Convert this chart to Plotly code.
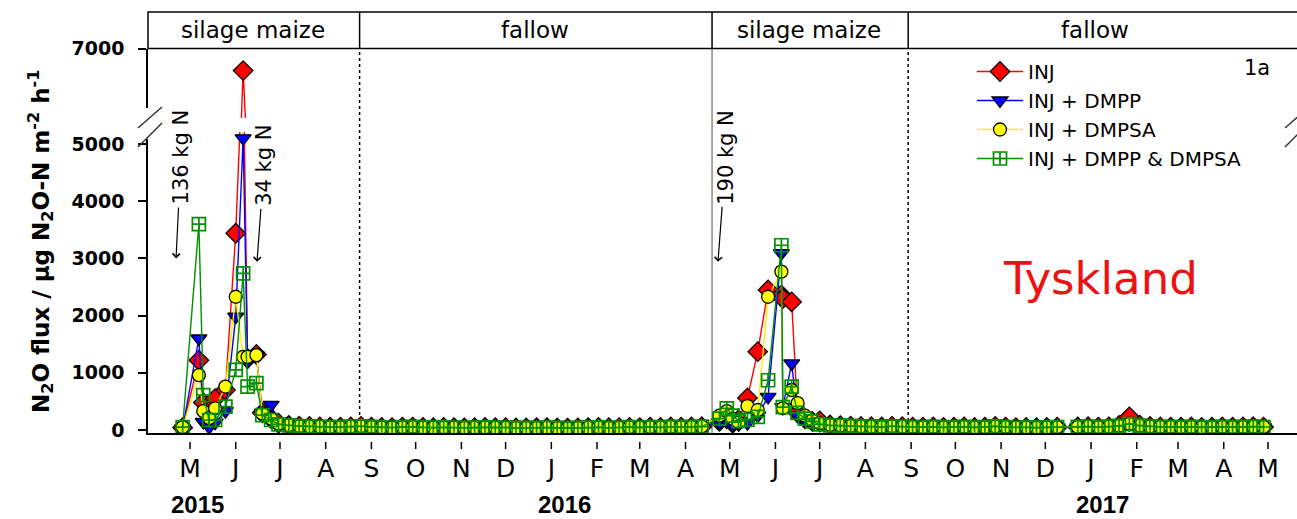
import pandas as pd
import plotly.graph_objects as go

# ---------------- sampling dates ----------------
dates_maize_2015 = ["2015-05-10", "2015-05-21", "2015-05-24", "2015-05-28", "2015-06-01",
                    "2015-06-08", "2015-06-15", "2015-06-20", "2015-06-23", "2015-06-29",
                    "2015-07-03", "2015-07-09", "2015-07-14"]
dates_fallow_2015 = ["2015-07-21", "2015-07-28", "2015-08-04", "2015-08-11", "2015-08-18",
                     "2015-08-25", "2015-09-01", "2015-09-08", "2015-09-15", "2015-09-22",
                     "2015-09-29", "2015-10-06", "2015-10-13", "2015-10-20", "2015-10-27",
                     "2015-11-03", "2015-11-10", "2015-11-17", "2015-11-24", "2015-12-01",
                     "2015-12-08", "2015-12-15", "2015-12-22", "2015-12-29", "2016-01-05",
                     "2016-01-12", "2016-01-19", "2016-01-26", "2016-02-02", "2016-02-09",
                     "2016-02-16", "2016-02-23", "2016-03-01", "2016-03-08", "2016-03-15",
                     "2016-03-22", "2016-03-29", "2016-04-05", "2016-04-12", "2016-04-19",
                     "2016-04-26"]
dates_maize_2016 = ["2016-05-08", "2016-05-13", "2016-05-17", "2016-05-21", "2016-05-27",
                    "2016-06-03", "2016-06-10", "2016-06-19", "2016-06-20", "2016-06-26",
                    "2016-06-30", "2016-07-05", "2016-07-10", "2016-07-15", "2016-07-22"]
dates_fallow_2016 = ["2016-07-29", "2016-08-05", "2016-08-12", "2016-08-19", "2016-08-26",
                     "2016-09-02", "2016-09-09", "2016-09-16", "2016-09-23", "2016-09-30",
                     "2016-10-07", "2016-10-14", "2016-10-21", "2016-10-28", "2016-11-04",
                     "2016-11-11", "2016-11-18", "2016-11-25", "2016-12-02", "2016-12-09",
                     "2016-12-16", "2016-12-23", "2017-01-06", "2017-01-13", "2017-01-20",
                     "2017-01-27", "2017-02-03", "2017-02-10", "2017-02-17", "2017-02-24",
                     "2017-03-03", "2017-03-10", "2017-03-17", "2017-03-24", "2017-03-31",
                     "2017-04-07", "2017-04-14", "2017-04-21", "2017-04-28", "2017-05-05",
                     "2017-05-12"]

# ---------------- N2O fluxes (ug N2O-N m-2 h-1) ----------------
inj_maize_2015 = [40, 1220, 480, 330, 550, 700, 3440, 6650, 1250, 1320, 300, 200, 120]
dmpp_maize_2015 = [30, 1600, 140, 50, 130, 330, 1980, 5100, 1200, 1300, 300, 440, 150]
dmpsa_maize_2015 = [50, 960, 330, 210, 380, 760, 2330, 1280, 1280, 1310, 290, 200, 110]
both_maize_2015 = [50, 3600, 610, 175, 175, 410, 1050, 2740, 760, 820, 260, 175, 100]

inj_fallow_2015 = [80, 68, 62, 55, 50, 48, 56, 64, 50, 45, 42, 48, 52, 44, 40, 46, 42, 38, 41, 44, 39,
                   42, 37, 35, 39, 41, 36, 34, 38, 40, 46, 39, 42, 47, 41, 50, 45, 55, 49, 54, 58]
dmpp_fallow_2015 = [75, 62, 57, 51, 48, 44, 51, 58, 48, 42, 39, 44, 48, 41, 37, 42, 39, 35, 38, 41, 36,
                    39, 34, 32, 35, 38, 33, 31, 34, 37, 42, 35, 39, 43, 38, 47, 42, 50, 45, 50, 55]
dmpsa_fallow_2015 = [85, 70, 64, 58, 53, 51, 60, 67, 55, 48, 44, 51, 56, 46, 42, 48, 44, 39, 42, 47, 41,
                     43, 38, 36, 40, 42, 37, 35, 39, 41, 48, 40, 43, 49, 42, 53, 48, 57, 51, 56, 62]
both_fallow_2015 = [82, 69, 63, 57, 52, 50, 58, 66, 54, 48, 44, 50, 55, 46, 42, 48, 44, 40, 43, 46, 41,
                    44, 39, 36, 40, 43, 38, 35, 39, 42, 48, 40, 44, 49, 43, 52, 47, 57, 51, 56, 61]

inj_maize_2016 = [150, 200, 120, 180, 560, 1370, 2450, 2360, 2300, 2240, 300, 200, 150, 160, 90]
dmpp_maize_2016 = [120, 150, 90, 100, 120, 250, 580, 3090, 400, 1165, 250, 150, 120, 90, 80]
dmpsa_maize_2016 = [250, 330, 200, 130, 420, 350, 2330, 2770, 380, 700, 470, 250, 170, 120, 90]
both_maize_2016 = [200, 380, 250, 160, 180, 230, 870, 3230, 400, 760, 300, 200, 150, 100, 80]

inj_fallow_2016 = [75, 68, 62, 58, 53, 64, 57, 51, 48, 53, 46, 49, 55, 44, 48, 62, 51, 42, 46, 41, 44,
                   49, 53, 58, 51, 56, 80, 230, 85, 62, 55, 51, 48, 53, 46, 50, 55, 48, 53, 58, 51]
dmpp_fallow_2016 = [70, 63, 58, 53, 49, 58, 53, 47, 45, 48, 42, 46, 50, 40, 44, 56, 47, 39, 42, 38, 40,
                    45, 48, 53, 47, 51, 66, 100, 70, 56, 50, 47, 44, 48, 42, 46, 50, 44, 48, 53, 47]
dmpsa_fallow_2016 = [80, 72, 65, 61, 55, 67, 60, 54, 51, 55, 48, 52, 57, 46, 50, 65, 54, 45, 48, 44, 46,
                     51, 55, 61, 53, 59, 75, 110, 78, 63, 57, 54, 51, 55, 48, 53, 57, 51, 55, 61, 54]
both_fallow_2016 = [78, 71, 64, 60, 54, 66, 59, 53, 50, 54, 47, 51, 56, 45, 49, 64, 53, 44, 47, 43, 45,
                    50, 54, 60, 52, 58, 74, 105, 77, 62, 56, 53, 50, 54, 47, 52, 56, 50, 54, 60, 53]

# ---------------- axis labels / periods ----------------
month_ticks = ["2015-05-15", "2015-06-15", "2015-07-15", "2015-08-15", "2015-09-15", "2015-10-15",
               "2015-11-15", "2015-12-15", "2016-01-15", "2016-02-15", "2016-03-15", "2016-04-15",
               "2016-05-15", "2016-06-15", "2016-07-15", "2016-08-15", "2016-09-15", "2016-10-15",
               "2016-11-15", "2016-12-15", "2017-01-15", "2017-02-15", "2017-03-15", "2017-04-15",
               "2017-05-15"]
month_labels = ["M", "J", "J", "A", "S", "O", "N", "D", "J", "F", "M", "A",
                "M", "J", "J", "A", "S", "O", "N", "D", "J", "F", "M", "A", "M"]
year_labels = ["2015", "2016", "2017"]
year_label_dates = ["2015-05-20", "2016-01-24", "2017-01-23"]

period_names = ["silage maize", "fallow", "silage maize", "fallow"]
period_label_dates = ["2015-06-27", "2016-01-04", "2016-07-08", "2017-01-18"]
period_bounds = ["2015-09-07", "2016-05-03", "2016-09-13"]
period_bound_styles = ["dot", "solid", "dot"]

fert_labels = ["136 kg N", "34 kg N", "190 kg N"]
fert_dates = ["2015-05-05 12:00", "2015-06-29 10:00", "2016-05-07"]

x_range = ["2015-04-16 12:00", "2017-06-03 16:00"]

dates = pd.to_datetime(dates_maize_2015 + dates_fallow_2015 + dates_maize_2016 + dates_fallow_2016)
series = [
    ("INJ", inj_maize_2015 + inj_fallow_2015 + inj_maize_2016 + inj_fallow_2016,
     dict(color="#ff0000", symbol="diamond", size=15, line=dict(color="black", width=1.3))),
    ("INJ + DMPP", dmpp_maize_2015 + dmpp_fallow_2015 + dmpp_maize_2016 + dmpp_fallow_2016,
     dict(color="#0000ff", symbol="triangle-down", size=14, line=dict(color="black", width=1.3))),
    ("INJ + DMPSA", dmpsa_maize_2015 + dmpsa_fallow_2015 + dmpsa_maize_2016 + dmpsa_fallow_2016,
     dict(color="#ffff00", symbol="circle", size=13, line=dict(color="black", width=1.3))),
    ("INJ + DMPP & DMPSA", both_maize_2015 + both_fallow_2015 + both_maize_2016 + both_fallow_2016,
     dict(color="#009000", symbol="square-cross-open", size=13, line=dict(color="#009000", width=1.7))),
]
line_colors = ["#ff0000", "#0000ff", "#ffee00", "#009000"]

FONT = "DejaVu Sans"
fig = go.Figure()
for (name, vals, mk), lc in zip(series, line_colors):
    # lower (0-5000) panel and upper (above the axis break) panel
    for yax, show in (("y", True), ("y2", False)):
        fig.add_trace(go.Scatter(
            x=dates, y=vals, name=name, mode="lines+markers", yaxis=yax,
            legendgroup=name, showlegend=show,
            line=dict(color=lc, width=1.4), marker=mk))

# geometry of the plotting region (pixels)
W, H = 1297, 519
L, T, B = 148, 12, 86
PH = H - T - B


def py(p):
    return (H - B - p) / PH


def px(p):
    return (p - L) / (W - L)


band_bottom = py(48.5)
shapes = []
# header band with the crop periods
shapes.append(dict(type="rect", xref="paper", yref="paper", x0=0, x1=1.02, y0=band_bottom, y1=1,
                   line=dict(color="black", width=1.5), layer="above"))
for d, style in zip(period_bounds, period_bound_styles):
    shapes.append(dict(type="line", xref="x", yref="paper", x0=d, x1=d, y0=band_bottom, y1=1,
                       line=dict(color="black", width=1.5)))
    shapes.append(dict(type="line", xref="x", yref="paper", x0=d, x1=d, y0=0, y1=band_bottom,
                       line=dict(color="black" if style == "dot" else "#8a8a8a", width=1.5,
                                 dash=style), layer="below"))
# month ticks, drawn slightly detached from the axis line
for d in month_ticks:
    shapes.append(dict(type="line", xref="x", yref="paper", x0=d, x1=d, y0=py(442), y1=py(449),
                       line=dict(color="black", width=1.5)))
# axis-break marks
shapes.append(dict(type="rect", xref="paper", yref="paper", x0=px(144), x1=px(152),
                   y0=py(139), y1=py(108), fillcolor="white", line=dict(width=0), layer="above"))
for (xa, ya, xb, yb) in [(138, 128, 162, 107), (138, 147, 162, 123),
                         (1285, 128, 1309, 107), (1285, 147, 1309, 123)]:
    shapes.append(dict(type="line", xref="paper", yref="paper", x0=px(xa), y0=py(ya),
                       x1=px(xb), y1=py(yb), line=dict(color="#333333", width=1.5), layer="above"))

ann = []
for name, d in zip(period_names, period_label_dates):
    ann.append(dict(x=d, y=py(30), xref="x", yref="paper", text=name, showarrow=False,
                    xanchor="center", yanchor="middle",
                    font=dict(family=FONT, size=23, color="black")))
for lab, d in zip(year_labels, year_label_dates):
    ann.append(dict(x=d, y=py(505), xref="x", yref="paper", text=lab, showarrow=False,
                    xanchor="center", yanchor="middle",
                    font=dict(family="Liberation Sans", size=24, color="black", weight="bold")))
# fertilisation events: rotated label with an arrow pointing down to the application date
arrow_tip = [3000, 2940, 2940]
label_dx = [5, 7, 8]
label_dy = [-101, -96, -105]
for lab, d, tp, dx, dy in zip(fert_labels, fert_dates, arrow_tip, label_dx, label_dy):
    ann.append(dict(x=d, y=tp, xref="x", yref="y", text=lab, textangle=-90, showarrow=True,
                    ax=dx, ay=dy, arrowhead=4, arrowsize=1.2, arrowwidth=1.2, arrowcolor="black",
                    borderpad=2, font=dict(family=FONT, size=21, color="black")))
ann.append(dict(x=px(40), y=py(242), xref="paper", yref="paper", textangle=-90, showarrow=False,
                xanchor="center", yanchor="middle",
                text="N<sub>2</sub>O flux / µg N<sub>2</sub>O-N m<sup>-2</sup> h<sup>-1</sup>",
                font=dict(family=FONT, size=23, color="black", weight="bold")))
ann.append(dict(x=px(1257), y=py(68), xref="paper", yref="paper", text="1a", showarrow=False,
                xanchor="center", yanchor="middle",
                font=dict(family=FONT, size=21, color="black")))
ann.append(dict(x=px(1100), y=py(278), xref="paper", yref="paper", text="Tyskland", showarrow=False,
                xanchor="center", yanchor="middle",
                font=dict(family=FONT, size=45, color="#ee1111")))
ann.append(dict(x=px(88), y=py(513), xref="paper", yref="paper", text="AARHUS", showarrow=False,
                xanchor="center", yanchor="top",
                font=dict(family="Liberation Sans", size=20, color="#333333")))

axis_common = dict(showgrid=False, zeroline=False, showline=True, linecolor="black", linewidth=1.5,
                   ticks="outside", ticklen=8, tickwidth=1.5, tickcolor="black",
                   ticklabelstandoff=10,
                   tickfont=dict(family=FONT, size=19, color="black", weight="bold"))

fig.update_layout(
    width=W, height=H,
    margin=dict(l=L, r=0, t=T, b=B),
    paper_bgcolor="white", plot_bgcolor="white",
    shapes=shapes, annotations=ann,
    xaxis=dict(type="date", range=x_range, anchor="y", tickvals=month_ticks, ticktext=month_labels,
               showgrid=False, zeroline=False, showline=True, linecolor="black", linewidth=1.5,
               ticks="", ticklabelstandoff=12,
               tickfont=dict(family=FONT, size=25, color="black")),
    yaxis=dict(domain=[0, py(132)], range=[-52, 5210], tickvals=[0, 1000, 2000, 3000, 4000, 5000],
               anchor="x", **axis_common),
    yaxis2=dict(domain=[py(118), band_bottom], range=[5900, 7000], tickvals=[7000],
                anchor="x", **axis_common),
    legend=dict(x=px(972), y=py(52), xanchor="left", yanchor="top", bgcolor="rgba(0,0,0,0)",
                font=dict(family=FONT, size=20, color="black"), itemwidth=46, tracegroupgap=0,
                traceorder="grouped"),
    showlegend=True,
)

fig.write_html("out.html")
